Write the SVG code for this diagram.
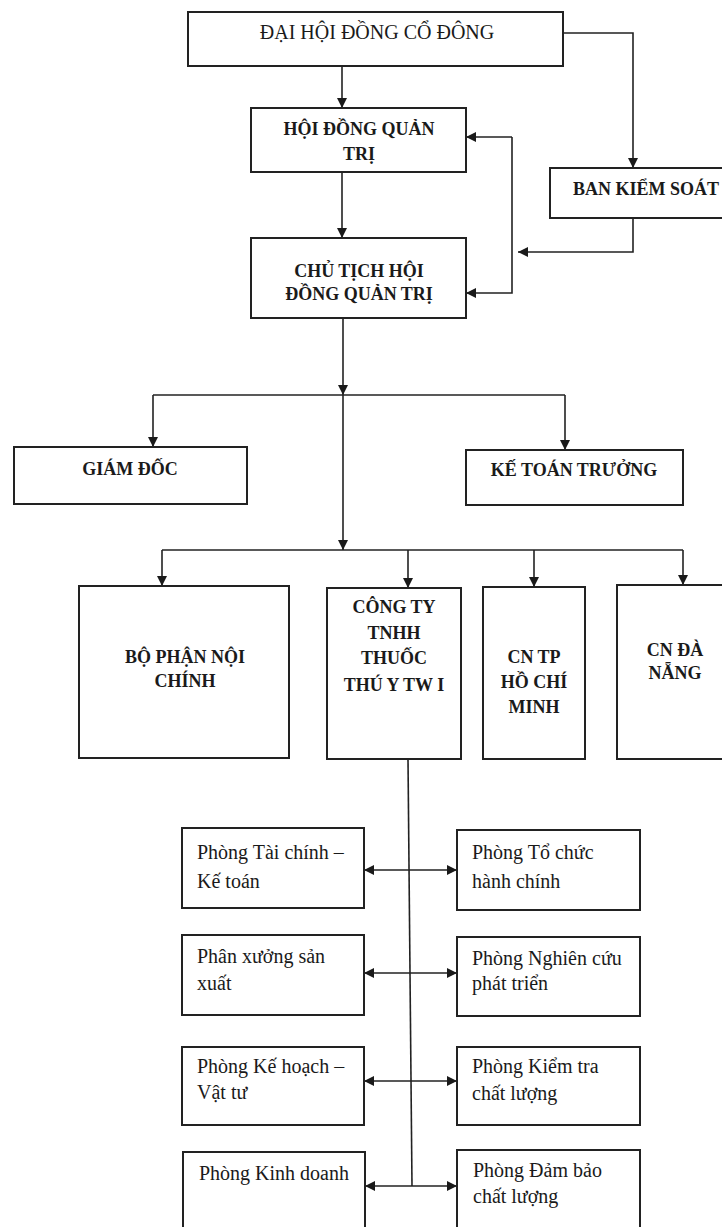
<svg xmlns="http://www.w3.org/2000/svg" width="722" height="1227" viewBox="0 0 722 1227">
<defs>
<marker id="ah" viewBox="0 0 10 10" refX="10" refY="5" markerWidth="11" markerHeight="10" markerUnits="userSpaceOnUse" orient="auto-start-reverse">
<path d="M0,0 L10,5 L0,10 z" fill="#1a1a1a"/>
</marker>
<style>
.box{fill:#fff;stroke:#222;stroke-width:2}
.ln{fill:none;stroke:#222;stroke-width:1.6}
.arr{fill:none;stroke:#222;stroke-width:1.6;marker-end:url(#ah)}
.dbl{fill:none;stroke:#222;stroke-width:1.6;marker-end:url(#ah);marker-start:url(#ah)}
.b{font-family:"Liberation Serif","DejaVu Serif",serif;font-weight:bold;font-size:18px;fill:#1a1a1a;text-anchor:middle}
.r{font-family:"Liberation Serif","DejaVu Serif",serif;font-size:20px;fill:#1a1a1a}
.rc{font-family:"Liberation Serif","DejaVu Serif",serif;font-size:20px;fill:#1a1a1a;text-anchor:middle}
</style>
</defs>
<rect width="722" height="1227" fill="#fff"/>

<g id="connectors">
<path class="arr" d="M342,60 V108"/>
<path class="arr" d="M342,172 V238"/>
<path class="arr" d="M563,33 H633 V168"/>
<path class="arr" d="M633,218 V252 H518"/>
<path class="arr" d="M512,137 H466"/>
<path class="arr" d="M512,137 V293 H466"/>
<path class="arr" d="M343,318 V395"/>
<path class="ln" d="M153,395 H565"/>
<path class="arr" d="M153,395 V447"/>
<path class="arr" d="M565,395 V450"/>
<path class="arr" d="M343,395 V550"/>
<path class="ln" d="M162,550 H683"/>
<path class="arr" d="M162,550 V586"/>
<path class="arr" d="M408,550 V588"/>
<path class="arr" d="M534,550 V587"/>
<path class="arr" d="M683,550 V585"/>
<path class="ln" d="M408,759 L412,1186"/>
<path class="dbl" d="M364,870 H457"/>
<path class="dbl" d="M364,973 H457"/>
<path class="dbl" d="M364,1081 H457"/>
<path class="dbl" d="M365,1186 H457"/>
</g>

<g id="dai-hoi">
<rect class="box" x="188" y="12" width="375" height="54"/>
<text class="rc" x="377" y="39">ĐẠI HỘI ĐỒNG CỔ ĐÔNG</text>
</g>
<g id="hdqt">
<rect class="box" x="251" y="108" width="215" height="64"/>
<text class="b" x="359" y="135">HỘI ĐỒNG QUẢN</text>
<text class="b" x="359" y="160">TRỊ</text>
</g>
<g id="ban-kiem-soat">
<rect class="box" x="550" y="168" width="180" height="50"/>
<text class="b" x="646" y="195">BAN KIỂM SOÁT</text>
</g>
<g id="chu-tich">
<rect class="box" x="251" y="238" width="215" height="80"/>
<text class="b" x="359" y="277">CHỦ TỊCH HỘI</text>
<text class="b" x="359" y="300">ĐỒNG QUẢN TRỊ</text>
</g>
<g id="giam-doc">
<rect class="box" x="14" y="447" width="233" height="57"/>
<text class="b" x="130" y="475">GIÁM ĐỐC</text>
</g>
<g id="ke-toan-truong">
<rect class="box" x="466" y="450" width="217" height="55"/>
<text class="b" x="574" y="476">KẾ TOÁN TRƯỞNG</text>
</g>
<g id="noi-chinh">
<rect class="box" x="79" y="586" width="210" height="172"/>
<text class="b" x="185" y="663">BỘ PHẬN NỘI</text>
<text class="b" x="185" y="687">CHÍNH</text>
</g>
<g id="cong-ty">
<rect class="box" x="327" y="588" width="134" height="171"/>
<text class="b" x="394" y="613">CÔNG TY</text>
<text class="b" x="394" y="639">TNHH</text>
<text class="b" x="394" y="664">THUỐC</text>
<text class="b" x="394" y="691">THÚ Y TW I</text>
</g>
<g id="cn-hcm">
<rect class="box" x="483" y="587" width="102" height="172"/>
<text class="b" x="534" y="663">CN TP</text>
<text class="b" x="534" y="688">HỒ CHÍ</text>
<text class="b" x="534" y="713">MINH</text>
</g>
<g id="cn-da-nang">
<rect class="box" x="617" y="585" width="113" height="174"/>
<text class="b" x="675" y="656">CN ĐÀ</text>
<text class="b" x="675" y="679">NẴNG</text>
</g>

<g id="p-tai-chinh">
<rect class="box" x="182" y="828" width="182" height="80"/>
<text class="r" x="197" y="859">Phòng Tài chính –</text>
<text class="r" x="197" y="888">Kế toán</text>
</g>
<g id="p-to-chuc">
<rect class="box" x="457" y="830" width="183" height="80"/>
<text class="r" x="472" y="859">Phòng Tổ chức</text>
<text class="r" x="472" y="888">hành chính</text>
</g>
<g id="phan-xuong">
<rect class="box" x="182" y="935" width="182" height="80"/>
<text class="r" x="197" y="963">Phân xưởng sản</text>
<text class="r" x="197" y="990">xuất</text>
</g>
<g id="p-nghien-cuu">
<rect class="box" x="457" y="937" width="183" height="79"/>
<text class="r" x="472" y="965">Phòng Nghiên cứu</text>
<text class="r" x="472" y="990">phát triển</text>
</g>
<g id="p-ke-hoach">
<rect class="box" x="182" y="1047" width="182" height="78"/>
<text class="r" x="197" y="1073">Phòng Kế hoạch –</text>
<text class="r" x="197" y="1099">Vật tư</text>
</g>
<g id="p-kiem-tra">
<rect class="box" x="457" y="1047" width="183" height="78"/>
<text class="r" x="472" y="1073">Phòng Kiểm tra</text>
<text class="r" x="472" y="1100">chất lượng</text>
</g>
<g id="p-kinh-doanh">
<rect class="box" x="183" y="1152" width="182" height="90"/>
<text class="r" x="199" y="1180">Phòng Kinh doanh</text>
</g>
<g id="p-dam-bao">
<rect class="box" x="457" y="1150" width="183" height="92"/>
<text class="r" x="473" y="1177">Phòng Đảm bảo</text>
<text class="r" x="473" y="1203">chất lượng</text>
</g>
</svg>
